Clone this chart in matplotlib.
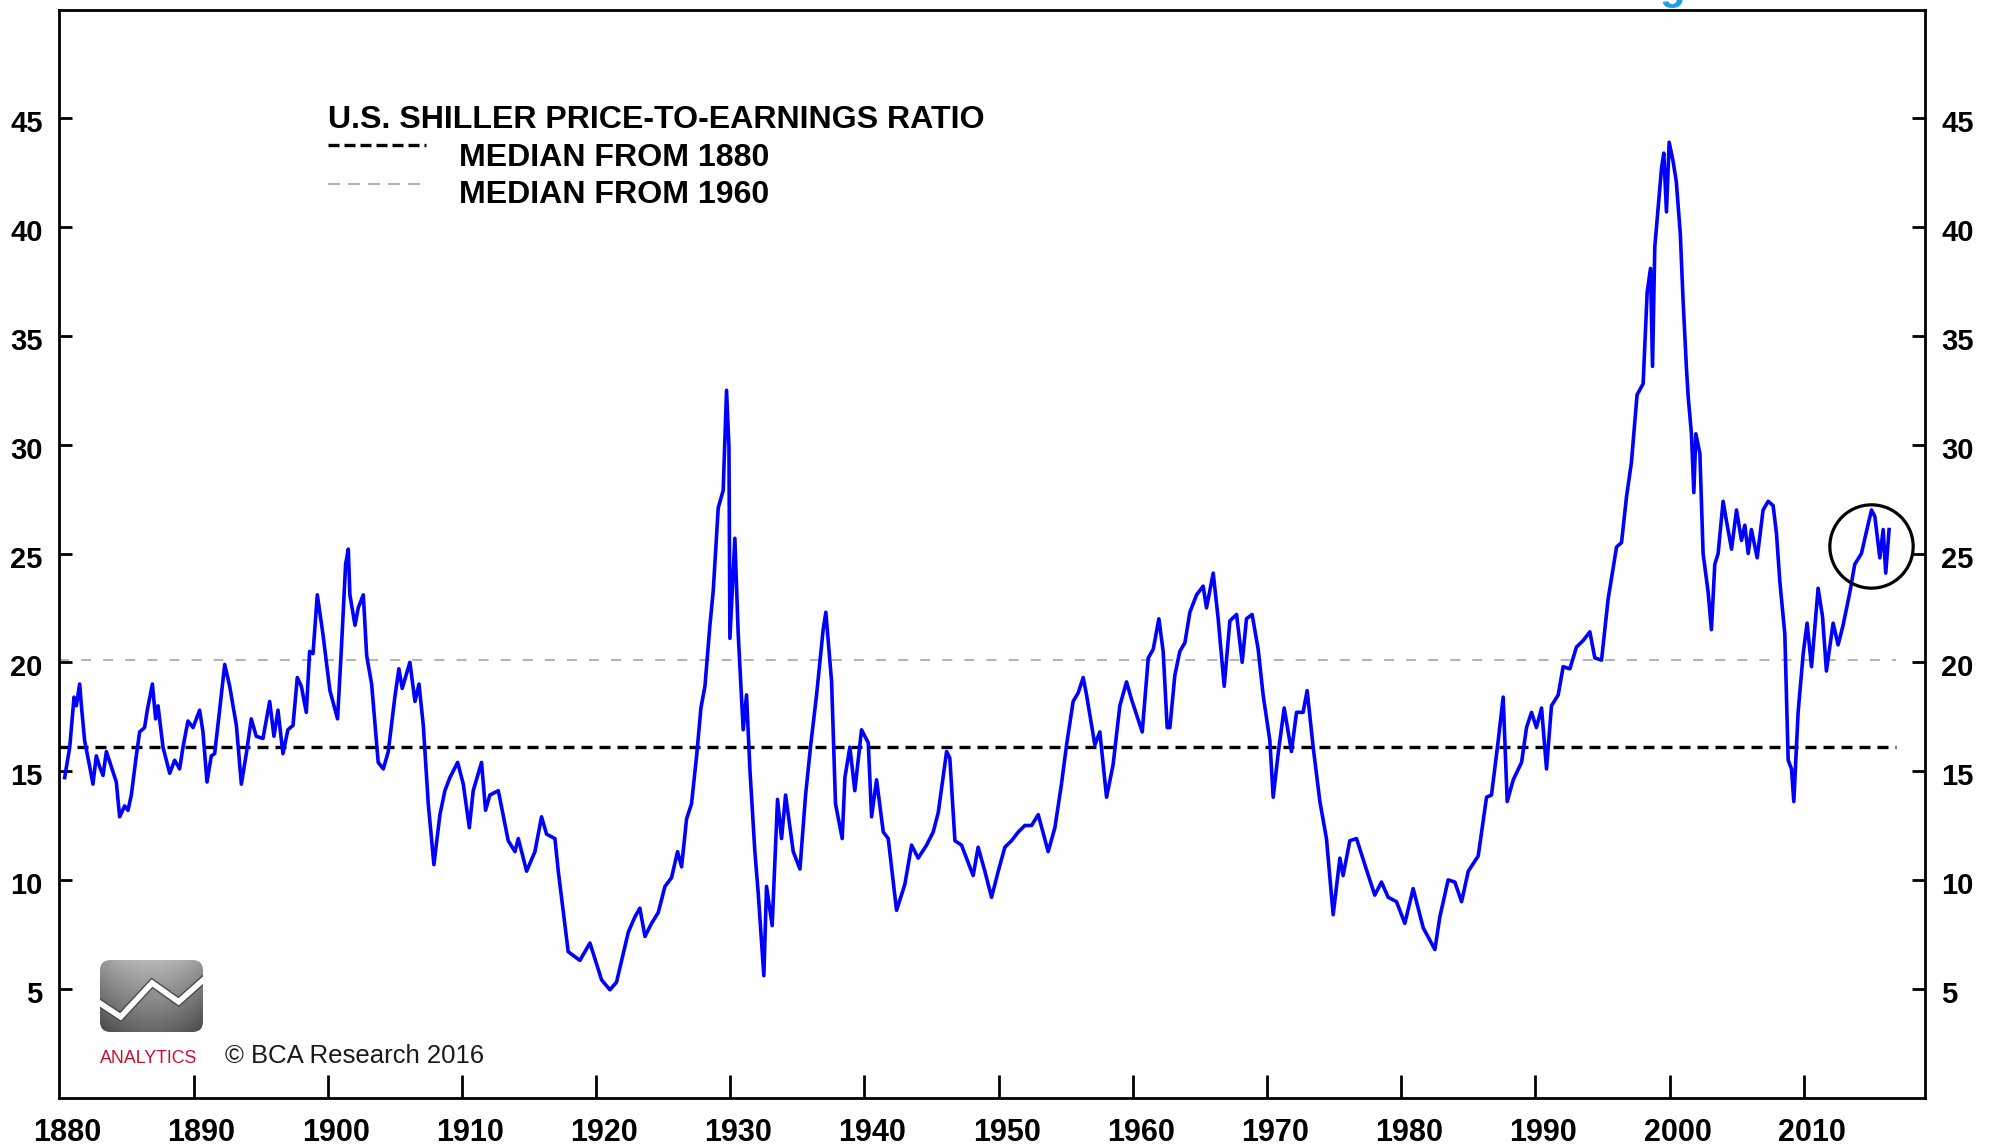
#!/usr/bin/env python3
"""U.S. Shiller price-to-earnings ratio chart (BCA style), redrawn."""

import matplotlib
matplotlib.use('Agg')
import matplotlib.pyplot as plt
import matplotlib.patheffects as pe
import numpy as np
from matplotlib import font_manager
from matplotlib.lines import Line2D
from matplotlib.patches import FancyBboxPatch
from matplotlib.transforms import ScaledTranslation

# ---- data (decimal year, ratio) ----
pe_1880s = [
    (1880.39, 14.7), (1880.77, 16.1), (1881.09, 18.4), (1881.26, 18.0), (1881.51, 19.0),
    (1881.64, 18.0), (1881.88, 16.4), (1882.26, 15.2), (1882.50, 14.4), (1882.75, 15.7),
    (1883.00, 15.2), (1883.25, 14.8), (1883.50, 15.9), (1883.87, 15.2), (1884.24, 14.5),
    (1884.49, 12.9), (1884.86, 13.4), (1885.11, 13.2), (1885.36, 13.9), (1885.73, 15.7),
    (1885.98, 16.8), (1886.35, 17.0), (1886.55, 17.8), (1886.93, 19.0), (1887.17, 17.4),
    (1887.35, 18.0), (1887.72, 16.1), (1888.22, 14.9), (1888.59, 15.5), (1888.96, 15.1),
    (1889.21, 16.1), (1889.58, 17.3), (1889.96, 17.0), (1890.45, 17.8), (1890.70, 16.8),
    (1891.00, 14.5), (1891.32, 15.7), (1891.57, 15.8), (1891.94, 17.8), (1892.32, 19.9),
    (1892.69, 18.9), (1893.19, 17.1), (1893.56, 14.4), (1893.93, 15.8), (1894.30, 17.4),
    (1894.67, 16.6), (1895.17, 16.5), (1895.67, 18.2), (1895.99, 16.6), (1896.29, 17.8),
    (1896.66, 15.8), (1897.03, 16.9), (1897.41, 17.1), (1897.73, 19.3), (1898.03, 18.9),
    (1898.40, 17.7), (1898.65, 20.5), (1898.90, 20.4), (1899.22, 23.1), (1899.64, 21.3),
]
pe_1900s = [
    (1900.16, 18.7), (1900.73, 17.4), (1901.03, 20.8), (1901.33, 24.5), (1901.53, 25.2),
    (1901.65, 23.1), (1902.03, 21.7), (1902.27, 22.5), (1902.65, 23.1), (1902.90, 20.3),
    (1903.27, 19.0), (1903.76, 15.4), (1904.14, 15.1), (1904.51, 15.9), (1905.00, 18.4),
    (1905.30, 19.7), (1905.55, 18.8), (1906.12, 20.0), (1906.50, 18.2), (1906.80, 19.0),
    (1907.12, 17.1), (1907.49, 13.5), (1907.91, 10.7), (1908.36, 13.0), (1908.73, 14.1),
    (1909.10, 14.7), (1909.68, 15.4), (1910.10, 14.4), (1910.55, 12.4), (1910.84, 14.1),
    (1911.46, 15.4), (1911.76, 13.2), (1912.08, 13.9), (1912.71, 14.1), (1913.45, 11.8),
    (1913.95, 11.3), (1914.20, 11.9), (1914.82, 10.4), (1915.44, 11.3), (1915.93, 12.9),
    (1916.31, 12.1), (1916.93, 11.9), (1917.18, 10.4), (1917.92, 6.7), (1918.79, 6.3),
    (1919.54, 7.1),
]
pe_1920s = [
    (1920.41, 5.4), (1921.03, 4.95), (1921.52, 5.3), (1922.40, 7.6), (1922.89, 8.3),
    (1923.26, 8.7), (1923.64, 7.4), (1924.13, 8.0), (1924.63, 8.5), (1925.13, 9.7),
    (1925.62, 10.1), (1926.07, 11.3), (1926.37, 10.6), (1926.74, 12.8), (1927.11, 13.5),
    (1927.49, 15.7), (1927.81, 17.9), (1928.11, 18.9), (1928.48, 21.7), (1928.73, 23.3),
    (1929.10, 27.1), (1929.47, 27.9), (1929.72, 32.5), (1929.90, 29.9), (1929.97, 21.1),
    (1930.34, 25.7), (1930.59, 21.3), (1930.96, 16.9), (1931.21, 18.5), (1931.46, 15.1),
    (1931.83, 11.3), (1932.08, 9.4), (1932.50, 5.6), (1932.70, 9.7), (1933.12, 7.9),
    (1933.52, 13.7), (1933.82, 11.9), (1934.12, 13.9), (1934.69, 11.3), (1935.19, 10.5),
    (1935.61, 13.9), (1936.01, 16.3), (1936.43, 18.5), (1936.92, 21.5), (1937.12, 22.3),
    (1937.55, 19.1), (1937.84, 13.5), (1938.34, 11.9), (1938.54, 14.7), (1938.91, 16.1),
    (1939.28, 14.1), (1939.78, 16.9),
]
pe_1940s = [
    (1940.28, 16.3), (1940.53, 12.9), (1940.90, 14.6), (1941.40, 12.2), (1941.77, 11.9),
    (1942.39, 8.6), (1943.01, 9.8), (1943.51, 11.6), (1944.00, 11.0), (1944.63, 11.6),
    (1945.12, 12.2), (1945.50, 13.1), (1946.12, 15.9), (1946.36, 15.6), (1946.74, 11.8),
    (1947.23, 11.6), (1947.60, 11.0), (1948.10, 10.2), (1948.47, 11.5), (1948.97, 10.4),
    (1949.47, 9.2), (1949.97, 10.4), (1950.46, 11.5), (1950.96, 11.8), (1951.46, 12.2),
    (1951.95, 12.5), (1952.45, 12.5), (1952.95, 13.0), (1953.69, 11.3), (1954.19, 12.4),
    (1954.68, 14.4), (1955.06, 16.2), (1955.55, 18.2), (1955.93, 18.6), (1956.30, 19.3),
    (1956.55, 18.5), (1957.17, 16.2), (1957.54, 16.8), (1958.04, 13.8), (1958.53, 15.3),
    (1959.03, 18.0), (1959.53, 19.1), (1959.90, 18.3),
]
pe_1960s = [
    (1960.27, 17.6), (1960.70, 16.8), (1961.15, 20.2), (1961.52, 20.6), (1961.94, 22.0),
    (1962.26, 20.5), (1962.56, 17.0), (1962.76, 17.0), (1963.13, 19.4), (1963.50, 20.5),
    (1963.88, 20.9), (1964.25, 22.3), (1964.75, 23.1), (1965.24, 23.5), (1965.49, 22.5),
    (1965.99, 24.1), (1966.36, 22.0), (1966.81, 18.9), (1967.23, 21.9), (1967.73, 22.2),
    (1968.15, 20.0), (1968.47, 22.0), (1968.89, 22.2), (1969.34, 20.6), (1969.71, 18.5),
    (1970.21, 16.4), (1970.46, 13.8), (1970.83, 15.8), (1971.28, 17.9), (1971.82, 15.9),
    (1972.20, 17.7), (1972.69, 17.7), (1972.99, 18.7), (1973.44, 16.1), (1973.94, 13.6),
    (1974.43, 11.9), (1974.93, 8.4), (1975.43, 11.0), (1975.67, 10.2), (1976.17, 11.8),
    (1976.67, 11.9), (1977.29, 10.7), (1978.03, 9.3), (1978.53, 9.9), (1979.03, 9.2),
    (1979.65, 9.0),
]
pe_1980s = [
    (1980.27, 8.0), (1980.89, 9.6), (1981.64, 7.8), (1982.51, 6.8), (1982.88, 8.3),
    (1983.50, 10.0), (1984.00, 9.9), (1984.50, 9.0), (1985.00, 10.4), (1985.74, 11.1),
    (1986.36, 13.8), (1986.73, 13.9), (1987.23, 16.4), (1987.60, 18.4), (1987.90, 13.6),
    (1988.35, 14.6), (1988.97, 15.4), (1989.34, 17.0), (1989.71, 17.7), (1990.08, 17.0),
    (1990.46, 17.9), (1990.83, 15.1), (1991.20, 18.0), (1991.70, 18.5), (1992.07, 19.8),
    (1992.57, 19.7), (1993.06, 20.7), (1993.56, 21.0), (1994.06, 21.4), (1994.43, 20.2),
    (1994.93, 20.1), (1995.42, 22.9), (1996.05, 25.3), (1996.42, 25.5), (1996.79, 27.6),
    (1997.16, 29.2), (1997.58, 32.3), (1998.03, 32.8), (1998.33, 37.0), (1998.58, 38.1),
    (1998.73, 33.6), (1998.90, 39.1), (1999.15, 40.9), (1999.40, 42.7), (1999.57, 43.4),
    (1999.77, 40.7), (1999.97, 43.9),
]
pe_2000s = [
    (2000.27, 43.0), (2000.50, 42.1), (2000.80, 39.7), (2001.01, 36.6), (2001.26, 33.5),
    (2001.39, 32.2), (2001.63, 30.5), (2001.81, 27.8), (2001.96, 30.5), (2002.26, 29.6),
    (2002.50, 25.0), (2002.88, 23.2), (2003.12, 21.5), (2003.37, 24.5), (2003.62, 25.0),
    (2003.99, 27.4), (2004.24, 26.5), (2004.62, 25.2), (2004.99, 27.0), (2005.36, 25.6),
    (2005.61, 26.3), (2005.86, 25.0), (2006.10, 26.1), (2006.53, 24.8), (2006.97, 27.0),
    (2007.35, 27.4), (2007.72, 27.2), (2007.97, 25.9), (2008.22, 23.7), (2008.59, 21.3),
    (2008.84, 15.5), (2009.09, 15.1), (2009.26, 13.6), (2009.58, 17.7), (2009.96, 20.4),
    (2010.25, 21.8), (2010.58, 19.8), (2011.07, 23.4), (2011.40, 22.1), (2011.69, 19.6),
    (2012.19, 21.8), (2012.56, 20.8), (2012.93, 21.7), (2013.43, 23.2), (2013.80, 24.5),
    (2014.30, 25.0), (2014.67, 26.0), (2015.05, 27.0), (2015.30, 26.7), (2015.67, 24.8),
    (2015.92, 26.1), (2016.11, 24.1), (2016.36, 26.1),
]

MEDIAN_1880 = 16.1
MEDIAN_1960 = 20.1
MEDIAN_END = 2016.9
CIRCLE_AT = (2015.05, 25.35)

X_TICKS = list(range(1880, 2011, 10))
Y_TICKS = list(range(5, 46, 5))

TITLE = 'U.S. SHILLER PRICE-TO-EARNINGS RATIO'
LEGEND_1880 = 'MEDIAN FROM 1880'
LEGEND_1960 = 'MEDIAN FROM 1960'
COPYRIGHT = '\u00a9 BCA Research 2016'

# ---- figure ----
W, H, DPI = 1992, 1147, 100
BLUE = '#0000ff'
GREY = '#b4b4b4'

plt.rcParams['font.family'] = ['Liberation Sans', 'DejaVu Sans']
plt.rcParams['font.weight'] = 'bold'


def fx(x):
    return x / W


def fy(y):
    return 1 - y / H


def has_font(name):
    try:
        font_manager.findfont(font_manager.FontProperties(family=name),
                              fallback_to_default=False)
        return True
    except Exception:
        return False


fig = plt.figure(figsize=(W / DPI, H / DPI), dpi=DPI)
fig.patch.set_facecolor('white')

ax = fig.add_axes([fx(59.4), fy(1097.5), fx(1924.5) - fx(59.4), fy(9.5) - fy(1097.5)])

series = np.array([p for seg in (pe_1880s, pe_1900s, pe_1920s, pe_1940s,
                                 pe_1960s, pe_1980s, pe_2000s) for p in seg])
ax.plot(series[:, 0], series[:, 1], color=BLUE, lw=2.6, zorder=3)

ax.plot([X_TICKS[0], MEDIAN_END], [MEDIAN_1880, MEDIAN_1880], color='black',
        lw=2.4, dashes=(3.3, 2.1), zorder=2)
ax.plot([X_TICKS[0], MEDIAN_END], [MEDIAN_1960, MEDIAN_1960], color=GREY,
        lw=1.5, dashes=(4.8, 5.8), zorder=2)

ax.plot(*CIRCLE_AT, marker='o', ms=60, mfc='none', mec='black', mew=2.3,
        zorder=4, clip_on=False)

ax.set_xlim(1880, 2019)
ax.set_ylim(0, 50)
ax.set_xticks(X_TICKS)
ax.set_yticks(Y_TICKS)
ax.tick_params(axis='x', direction='in', length=16.5, width=2, pad=15,
               labelsize=22, colors='black')
ax.tick_params(axis='y', direction='in', length=9.4, width=2, pad=12,
               labelsize=21, right=True, labelright=True)
for s in ax.spines.values():
    s.set_linewidth(2.0)
ax.xaxis.get_major_ticks()[0].tick1line.set_visible(False)

# labels sit a little right of / below their ticks in the original
shift_x = ScaledTranslation(8 / DPI, 0, fig.dpi_scale_trans)
shift_y = ScaledTranslation(0, -3 / DPI, fig.dpi_scale_trans)
for t in ax.xaxis.get_major_ticks():
    t.label1.set_transform(t.label1.get_transform() + shift_x)
for t in ax.yaxis.get_major_ticks():
    t.label1.set_transform(t.label1.get_transform() + shift_y)
    t.label2.set_transform(t.label2.get_transform() + shift_y)

# ---- legend block ----
fig.text(fx(328), fy(128), TITLE, fontsize=23.1, va='baseline', ha='left')
fig.text(fx(459), fy(166), LEGEND_1880, fontsize=23.1, va='baseline', ha='left')
fig.text(fx(459), fy(203), LEGEND_1960, fontsize=23.1, va='baseline', ha='left')
fig.add_artist(Line2D([fx(328), fx(426)], [fy(145), fy(145)], color='black',
                      lw=2.4, dashes=(3.3, 1.5)))
fig.add_artist(Line2D([fx(328), fx(426)], [fy(184), fy(184)], color=GREY,
                      lw=1.5, dashes=(5.8, 3.8)))

# ---- logo + copyright ----
lax = fig.add_axes([fx(100), fy(1032), fx(203) - fx(100), fy(960) - fy(1032)])
lax.axis('off')
gx, gy = np.meshgrid(np.linspace(-1, 1, 120), np.linspace(0, 1, 90))
shade = 0.72 - 0.32 * gy - 0.12 * gx ** 2
img = lax.imshow(shade, cmap='gray', vmin=0, vmax=1, extent=[0, 1, 0, 1],
                 aspect='auto', origin='upper')
clip = FancyBboxPatch((0, 0), 1, 1, boxstyle='round,pad=0,rounding_size=0.1',
                      mutation_aspect=103 / 72, transform=lax.transAxes,
                      facecolor='none', edgecolor='none')
lax.add_patch(clip)
img.set_clip_path(clip)
zig = lax.plot([0, 0.2, 0.505, 0.763, 1.0], [0.40, 0.21, 0.68, 0.42, 0.72],
               color='white', lw=4, solid_joinstyle='miter',
               path_effects=[pe.Stroke(linewidth=6, foreground='#4a4a4a'), pe.Normal()])[0]
zig.set_clip_path(clip)
lax.set_xlim(0, 1)
lax.set_ylim(0, 1)

if has_font('Liberation Sans Narrow'):
    fig.text(fx(100), fy(1063), 'ANALYTICS', fontsize=15.5, color='#c8102e',
             family=['Liberation Sans Narrow', 'DejaVu Sans'], weight='normal',
             va='baseline', ha='left')
else:
    fig.text(fx(100), fy(1063), 'ANALYTICS', fontsize=12.8, color='#c8102e',
             weight='normal', va='baseline', ha='left')

fig.text(fx(225), fy(1063), COPYRIGHT, fontsize=18.5, weight='normal',
         color='#1a1a1a', va='baseline', ha='left')

# tail of the cut-off chart title above the frame, as in the original
fig.text(fx(1672), fy(-1), 'g', fontsize=30, color='#1e9fe6', ha='center',
         va='baseline')

fig.savefig('out.png', dpi=DPI, facecolor='white')
